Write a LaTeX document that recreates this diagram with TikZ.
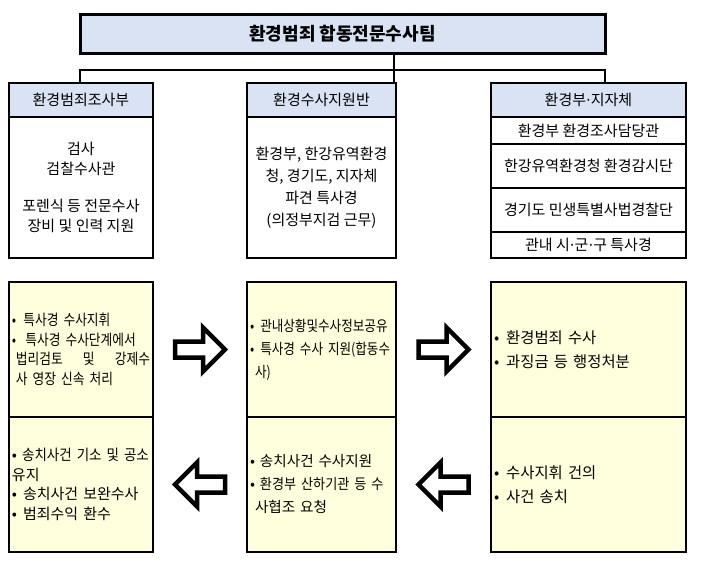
\documentclass[tikz,border=0pt]{standalone}
\usepackage{fontspec}
\setmainfont{Noto Sans CJK KR}
\newfontfamily\narrowkr[FakeStretch=0.85]{Noto Sans CJK KR}
\newfontfamily\semikr[FakeStretch=0.9]{Noto Sans CJK KR}
\newfontfamily\dotfont{DejaVu Sans}
\newcommand\middot{{\dotfont ·}}
\usetikzlibrary{positioning,calc}
\definecolor{headblue}{RGB}{218,227,243}
\definecolor{noteyellow}{RGB}{255,255,221}

\begin{document}
\begin{tikzpicture}[x=1pt,y=-1pt,
        box/.style={draw,line width=2.8pt,outer sep=0pt,inner sep=0pt,align=center,
            font=\fontsize{15}{20}\selectfont},
        headbox/.style={box,fill=headblue,minimum height=34pt},
        notebox/.style={box,fill=noteyellow,align=left,inner xsep=3pt,minimum height=135pt},
        link/.style={line width=2.5pt},
        blockarrow/.pic={\draw[line width=4.5pt,fill=white,line join=miter]
            (-25,-8) -- (3,-8) -- (3,-22) -- (25,0) -- (3,22) -- (3,8) -- (-25,8) -- cycle;}]
        \useasboundingbox (0,0) rectangle (713,570);

        % 상단 팀
        \node[headbox,line width=3pt,minimum width=525pt,minimum height=39pt,
            font=\bfseries\fontsize{18}{20}\selectfont] (team) at (342.5,33.5) {환경범죄 합동전문수사팀};

        % 세 부서
        \node[headbox,minimum width=144pt] (hleft) at (81,100) {환경범죄조사부};
        \node[headbox,minimum width=149pt] (hmid) at (321.5,100) {환경수사지원반};
        \node[headbox,minimum width=195pt] (hright) at (588.5,100) {환경부\middot 지자체};

        \node[box,minimum width=144pt,minimum height=141pt,below=0pt of hleft] (bleft)
            {검사\\검찰수사관\\[17pt]포렌식 등 전문수사\\장비 및 인력 지원};
        \node[box,minimum width=149pt,minimum height=141pt,below=0pt of hmid,
            font=\fontsize{15}{22}\selectfont] (bmid)
            {환경부, 한강유역환경\\청, 경기도, 지자체\\파견 특사경\\(의정부지검 근무)};
        \node[box,minimum width=195pt,minimum height=27pt,below=0pt of hright] (rone) {환경부 환경조사담당관};
        \node[box,minimum width=195pt,minimum height=44pt,below=0pt of rone] (rtwo) {한강유역환경청 환경감시단};
        \node[box,minimum width=195pt,minimum height=44pt,below=0pt of rtwo] (rthree) {경기도 민생특별사법경찰단};
        \node[box,minimum width=195pt,minimum height=26pt,below=0pt of rthree] (rfour) {관내 시\middot 군\middot 구 특사경};

        % 연결선
        \coordinate (bus) at (0,70);
        \coordinate (mdrop) at ([xshift=-2pt]hmid.north east);
        \draw[link] (hleft.north -| team.south west) -- (team.south west |- bus)
            -- (team.south east |- bus) -- (hright.north -| team.south east);
        \draw[link] (team.south -| mdrop) -- (mdrop);

        % 업무 흐름
        \node[notebox,minimum width=144pt,text width=138pt,
            font=\narrowkr\fontsize{15}{19.5}\selectfont] (ltop) at (81,349.5)
            {•\hspace{7pt}특사경 수사지휘\\
             •\hspace{9pt}특사경\hspace{5pt}수사단계에서\\
             \hspace{4pt}법리검토\hfill 및\hfill 강제수\\
             \hspace{4pt}사 영장 신속 처리};
        \node[notebox,minimum width=144pt,text width=138pt,below=0pt of ltop,
            font=\fontsize{15}{19.5}\selectfont] (lbot)
            {•\hspace{5pt}{\semikr 송치사건 기소 및 공소}\\
             유지\\
             •\hspace{6pt}송치사건 보완수사\\
             •\hspace{6pt}범죄수익 환수};
        \node[notebox,minimum width=149pt,text width=143pt,
            font=\narrowkr\fontsize{14.8}{23}\selectfont] (mtop) at (321.5,349.5)
            {•\hspace{6pt}관내상황및수사정보공유\\
             •\hspace{6pt}특사경 수사 지원(합동수\\
             \hspace{5pt}사)};
        \node[notebox,minimum width=149pt,text width=143pt,below=0pt of mtop,
            font=\fontsize{14.6}{23}\selectfont] (mbot)
            {•\hspace{5pt}송치사건 수사지원\\
             •\hspace{5pt}{\semikr 환경부 산하기관 등 수}\\
             \hspace{5pt}사협조 요청};
        \node[notebox,minimum width=195pt,text width=189pt,
            font=\fontsize{15.4}{24}\selectfont] (rtop) at (588.5,349.5)
            {•\hspace{7pt}환경범죄 수사\\
             •\hspace{7pt}과징금 등 행정처분};
        \node[notebox,minimum width=195pt,text width=189pt,below=0pt of rtop,
            font=\fontsize{15.4}{24}\selectfont] (rbot)
            {•\hspace{7pt}수사지휘 건의\\
             •\hspace{7pt}사건 송치};

        % 화살표
        \pic at ($(ltop.east)!.5!(mtop.west)$) {blockarrow};
        \pic at ($(mtop.east)!.5!(rtop.west)$) {blockarrow};
        \pic[rotate=180] at ($(lbot.east)!.5!(mbot.west)$) {blockarrow};
        \pic[rotate=180] at ($(mbot.east)!.5!(rbot.west)$) {blockarrow};
    \end{tikzpicture}
\end{document}
